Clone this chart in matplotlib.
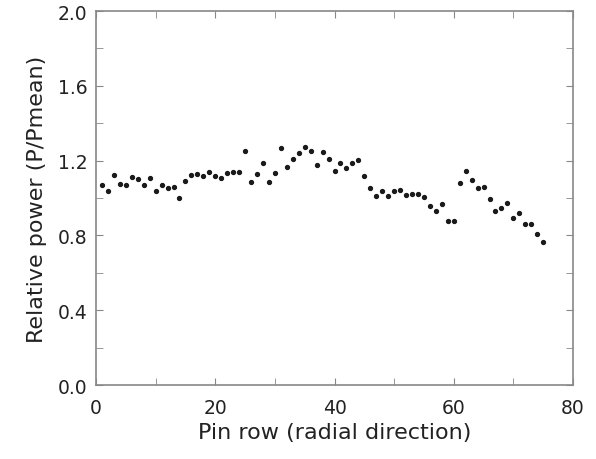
import matplotlib
matplotlib.use("Agg")
import matplotlib.pyplot as plt
from matplotlib.ticker import MultipleLocator

pin_row = list(range(1, 76))
relative_power = [
    1.068, 1.035, 1.123, 1.077, 1.072, 1.113, 1.100, 1.068, 1.106, 1.038,
    1.068, 1.052, 1.061, 0.999, 1.091, 1.123, 1.129, 1.115, 1.139, 1.118,
    1.109, 1.136, 1.141, 1.141, 1.253, 1.086, 1.127, 1.185, 1.086, 1.134,
    1.265, 1.168, 1.209, 1.242, 1.272, 1.253, 1.178, 1.246, 1.207, 1.143,
    1.189, 1.161, 1.185, 1.205, 1.115, 1.054, 1.013, 1.040, 1.012, 1.036,
    1.043, 1.015, 1.022, 1.022, 1.003, 0.958, 0.928, 0.969, 0.878, 0.877,
    1.081, 1.143, 1.097, 1.051, 1.061, 0.997, 0.932, 0.949, 0.972, 0.894,
    0.921, 0.859, 0.859, 0.807, 0.767,
]
x_ticks = [0, 20, 40, 60, 80]
y_ticks = [0.0, 0.4, 0.8, 1.2, 1.6, 2.0]

fig = plt.figure(figsize=(5.96, 4.6), dpi=100)
ax = fig.add_axes([96/596, 1 - 386/460, (573-96)/596, (386-12)/460])
ax.plot(pin_row, relative_power, linestyle="none", marker="o", markersize=2.8,
        color="#1a1a1a")
ax.set_xlim(0, 80)
ax.set_ylim(0, 2.0)
ax.set_xticks(x_ticks)
ax.set_yticks(y_ticks)
ax.set_yticklabels([f"{v:.1f}" for v in y_ticks])
ax.xaxis.set_minor_locator(MultipleLocator(10))
ax.yaxis.set_minor_locator(MultipleLocator(0.2))
for s in ax.spines.values():
    s.set_color("#888888")
    s.set_linewidth(1.2)
ax.tick_params(which="both", direction="in", top=True, right=True,
               color="#888888", labelsize=13.5, labelcolor="#222222")
ax.tick_params(which="both", length=5)
ax.tick_params(axis="x", pad=9)
ax.tick_params(axis="y", pad=6)
ax.set_xlabel("Pin row (radial direction)", fontsize=16, color="#222222",
              labelpad=4)
ax.set_ylabel("Relative power (P/Pmean)", fontsize=16, color="#222222",
              labelpad=8)
fig.savefig("out.png", dpi=100)
